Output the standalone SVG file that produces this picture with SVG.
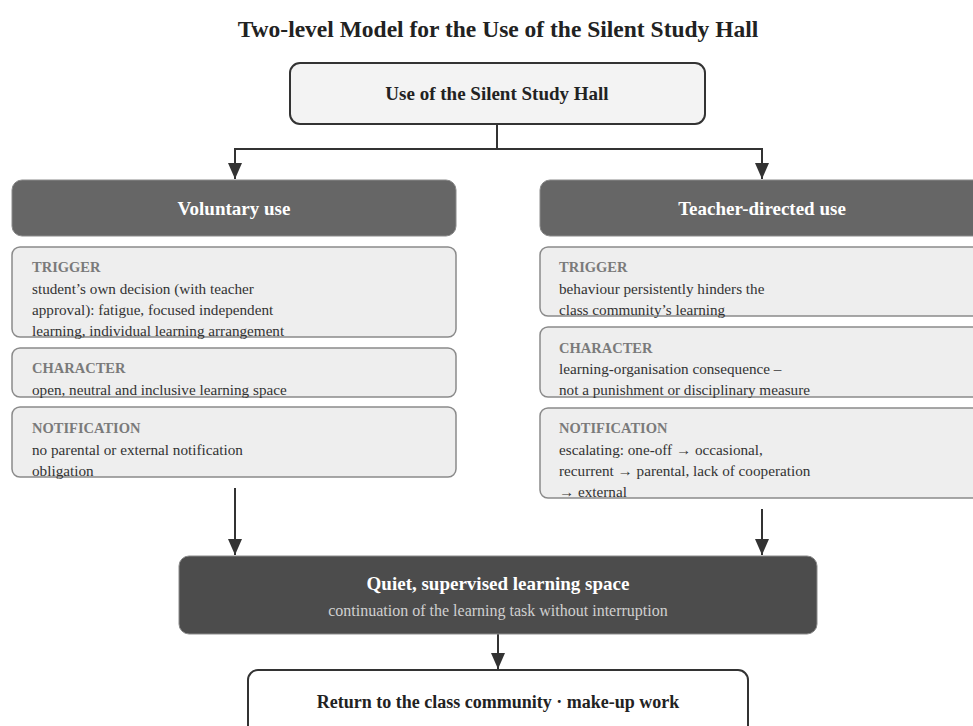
<svg xmlns="http://www.w3.org/2000/svg" width="973" height="726" viewBox="0 0 973 726">
  <defs>
    <style>
      text { font-family: "Liberation Serif", "Times New Roman", serif; }
      .title { font-size: 23.5px; font-weight: bold; fill: #222; text-anchor: middle; }
      .root-box { fill: #f3f3f3; stroke: #333; stroke-width: 2; }
      .root-text { font-size: 19px; font-weight: bold; fill: #222; text-anchor: middle; }
      .head-box { fill: #666666; stroke: #8a8a8a; stroke-width: 1; }
      .head-text { font-size: 19px; font-weight: bold; fill: #fff; text-anchor: middle; }
      .panel { fill: #eeeeee; stroke: #8a8a8a; stroke-width: 1.5; }
      .lbl { font-size: 14.5px; font-weight: bold; fill: #7a7a7a; }
      .body { font-size: 15.2px; fill: #333; }
      .dark-box { fill: #4c4c4c; stroke: #8a8a8a; stroke-width: 1; }
      .dark-title { font-size: 19px; font-weight: bold; fill: #fff; text-anchor: middle; }
      .dark-sub { font-size: 16px; fill: #d0d0d0; text-anchor: middle; }
      .end-box { fill: #fff; stroke: #333; stroke-width: 2; }
      .end-text { font-size: 18px; font-weight: bold; fill: #222; text-anchor: middle; }
      .conn { fill: none; stroke: #333; stroke-width: 2; }
    </style>
    <marker id="arrow" viewBox="0 0 16 14" refX="16" refY="7" markerWidth="16" markerHeight="14" markerUnits="userSpaceOnUse" orient="auto">
      <path d="M0,0 L16,7 L0,14 z" fill="#333"/>
    </marker>
  </defs>

  <rect width="973" height="726" fill="#ffffff"/>

  <text class="title" x="498" y="37">Two-level Model for the Use of the Silent Study Hall</text>

  <g id="connectors">
    <path class="conn" d="M497,124 V149"/>
    <path class="conn" d="M235,149 H762"/>
    <path class="conn" d="M235,148 V179" marker-end="url(#arrow)"/>
    <path class="conn" d="M762,148 V179" marker-end="url(#arrow)"/>
    <path class="conn" d="M235,488 V555" marker-end="url(#arrow)"/>
    <path class="conn" d="M762,509 V555" marker-end="url(#arrow)"/>
    <path class="conn" d="M498,634 V669" marker-end="url(#arrow)"/>
  </g>

  <g id="root">
    <rect class="root-box" x="290" y="63" width="415" height="61" rx="10"/>
    <text class="root-text" x="497" y="100">Use of the Silent Study Hall</text>
  </g>

  <g id="voluntary-header">
    <rect class="head-box" x="12" y="180" width="444" height="56" rx="10"/>
    <text class="head-text" x="234" y="215">Voluntary use</text>
  </g>

  <g id="voluntary-trigger">
    <rect class="panel" x="12" y="247" width="444" height="90" rx="8"/>
    <text class="lbl" x="32" y="272">TRIGGER</text>
    <text class="body" x="32" y="294">student’s own decision (with teacher</text>
    <text class="body" x="32" y="315">approval): fatigue, focused independent</text>
    <text class="body" x="32" y="336">learning, individual learning arrangement</text>
  </g>

  <g id="voluntary-character">
    <rect class="panel" x="12" y="348" width="444" height="49" rx="8"/>
    <text class="lbl" x="32" y="373">CHARACTER</text>
    <text class="body" x="32" y="395">open, neutral and inclusive learning space</text>
  </g>

  <g id="voluntary-notification">
    <rect class="panel" x="12" y="407" width="444" height="70" rx="8"/>
    <text class="lbl" x="32" y="433">NOTIFICATION</text>
    <text class="body" x="32" y="455">no parental or external notification</text>
    <text class="body" x="32" y="476">obligation</text>
  </g>

  <g id="teacher-header">
    <rect class="head-box" x="540" y="180" width="444" height="56" rx="10"/>
    <text class="head-text" x="762" y="215">Teacher-directed use</text>
  </g>

  <g id="teacher-trigger">
    <rect class="panel" x="540" y="247" width="444" height="69" rx="8"/>
    <text class="lbl" x="559" y="272">TRIGGER</text>
    <text class="body" x="559" y="294">behaviour persistently hinders the</text>
    <text class="body" x="559" y="315">class community’s learning</text>
  </g>

  <g id="teacher-character">
    <rect class="panel" x="540" y="327" width="444" height="70" rx="8"/>
    <text class="lbl" x="559" y="353">CHARACTER</text>
    <text class="body" x="559" y="374">learning-organisation consequence –</text>
    <text class="body" x="559" y="395">not a punishment or disciplinary measure</text>
  </g>

  <g id="teacher-notification">
    <rect class="panel" x="540" y="408" width="444" height="90" rx="8"/>
    <text class="lbl" x="559" y="433">NOTIFICATION</text>
    <text class="body" x="559" y="455">escalating: one-off → occasional,</text>
    <text class="body" x="559" y="476">recurrent → parental, lack of cooperation</text>
    <text class="body" x="559" y="497">→ external</text>
  </g>

  <g id="learning-space">
    <rect class="dark-box" x="179" y="556" width="638" height="78" rx="10"/>
    <text class="dark-title" x="498" y="590">Quiet, supervised learning space</text>
    <text class="dark-sub" x="498" y="616">continuation of the learning task without interruption</text>
  </g>

  <g id="return">
    <rect class="end-box" x="248" y="670" width="500" height="80" rx="10"/>
    <text class="end-text" x="498" y="708">Return to the class community · make-up work</text>
  </g>
</svg>
